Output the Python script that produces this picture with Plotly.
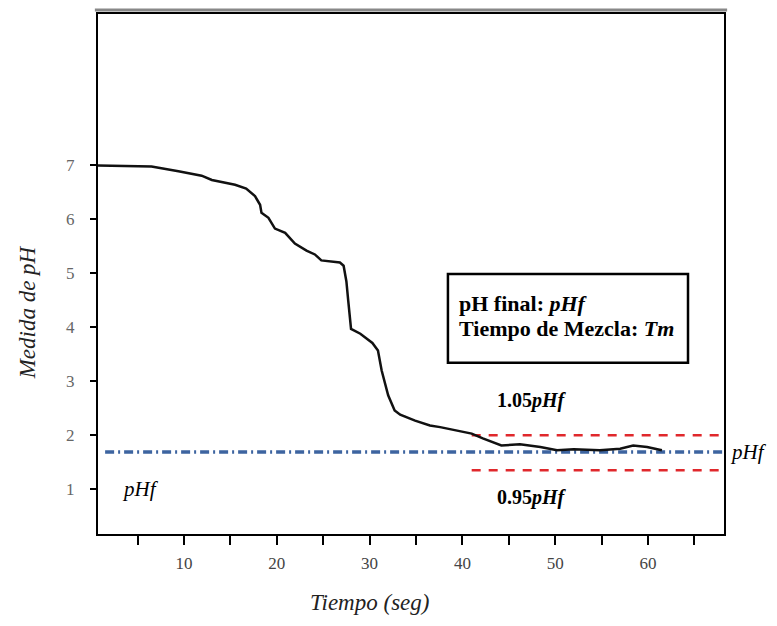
import plotly.graph_objects as go

# Data
tiempo = [0.73, 3.0, 6.5, 9.4, 11.9, 13.0, 15.5, 16.7, 17.65, 18.2, 18.35, 19.1, 19.8, 20.9,
          21.95, 23.2, 24.1, 24.8, 26.8, 27.2, 27.5, 27.7, 28.0, 29.0, 30.3, 30.9, 31.3, 32.0,
          32.7, 33.3, 34.9, 36.5, 37.6, 41.0, 42.2, 44.2, 46.2, 48.4, 50.2, 52.0, 54.8, 57.0,
          58.4, 59.9, 61.5]
ph = [7.0, 6.99, 6.98, 6.89, 6.81, 6.73, 6.64, 6.57, 6.43, 6.27, 6.12, 6.03, 5.83, 5.75,
      5.55, 5.42, 5.35, 5.24, 5.20, 5.14, 4.85, 4.49, 3.97, 3.88, 3.71, 3.57, 3.20, 2.74,
      2.46, 2.38, 2.27, 2.18, 2.15, 2.03, 1.94, 1.81, 1.83, 1.78, 1.72, 1.74, 1.72, 1.75,
      1.81, 1.78, 1.72]

phf = 1.69
ph_upper = 2.0
ph_lower = 1.35
band_x = [41.0, 68.2]
phf_x = [1.5, 68.2]

x_tickvals = [5, 10, 15, 20, 25, 30, 35, 40, 45, 50, 55, 60, 65]
x_ticktext = ["", "10", "", "20", "", "30", "", "40", "", "50", "", "60", ""]
y_tickvals = [1, 2, 3, 4, 5, 6, 7]
y_ticktext = ["1", "2", "3", "4", "5", "6", "7"]

SERIF = "Liberation Serif, Times New Roman, serif"

fig = go.Figure()
fig.add_trace(go.Scatter(x=phf_x, y=[phf, phf], mode="lines",
                         line=dict(color="#3d64a0", width=3.5, dash="9px,4px,2px,4px"),
                         hoverinfo="skip"))
fig.add_trace(go.Scatter(x=band_x, y=[ph_upper, ph_upper], mode="lines",
                         line=dict(color="#e0282c", width=2.5, dash="9px,8px"), hoverinfo="skip"))
fig.add_trace(go.Scatter(x=band_x, y=[ph_lower, ph_lower], mode="lines",
                         line=dict(color="#e0282c", width=2.5, dash="9px,8px"), hoverinfo="skip"))
fig.add_trace(go.Scatter(x=tiempo, y=ph, mode="lines",
                         line=dict(color="#111111", width=2.5)))

axis_common = dict(showline=True, linecolor="black", linewidth=2, mirror=True,
                   showgrid=False, zeroline=False, ticks="outside", tickcolor="black",
                   tickwidth=2)

fig.update_xaxes(range=[0.733, 68.19], tickvals=x_tickvals, ticktext=x_ticktext,
                 ticklen=9, ticklabelstandoff=4,
                 tickfont=dict(family=SERIF, size=17, color="#444444"), **axis_common)
fig.update_yaxes(range=[0.169, 9.806], tickvals=y_tickvals, ticktext=y_ticktext,
                 ticklen=6, ticklabelstandoff=12,
                 tickfont=dict(family=SERIF, size=17, color="#666666"), **axis_common)

fig.update_layout(
    width=777, height=626,
    margin=dict(l=98, r=53, t=12, b=92),
    paper_bgcolor="white", plot_bgcolor="white",
    showlegend=False,
    font=dict(family=SERIF, color="black"),
    shapes=[
        dict(type="line", xref="paper", yref="paper", x0=-0.005, x1=1.005, y0=1.0075, y1=1.0075,
             line=dict(color="#888888", width=3)),
        dict(type="rect", xref="paper", yref="paper", x0=0.559, x1=0.9425, y0=0.3295, y1=0.5,
             line=dict(color="black", width=2.5), fillcolor="white", layer="above"),
    ],
    annotations=[
        dict(xref="paper", yref="paper", x=-0.112, y=0.426, text="<i>Medida de pH</i>",
             textangle=-90, showarrow=False, font=dict(size=23, color="#222222"),
             xanchor="center", yanchor="middle"),
        dict(xref="paper", yref="paper", x=0.434, y=-0.132, text="<i>Tiempo (seg)</i>",
             showarrow=False, font=dict(size=23, color="#222222"),
             xanchor="center", yanchor="middle"),
        dict(xref="paper", yref="paper", x=0.5735, y=0.444, text="<b>pH final: <i>pHf</i></b>",
             showarrow=False, font=dict(size=22), xanchor="left", yanchor="middle"),
        dict(xref="paper", yref="paper", x=0.5735, y=0.3946,
             text="<b>Tiempo de Mezcla: <i>Tm</i></b>",
             showarrow=False, font=dict(size=22), xanchor="left", yanchor="middle"),
        dict(x=47.5, y=2.64, text="<b>1.05<i>pHf</i></b>", showarrow=False,
             font=dict(size=20), xanchor="center", yanchor="middle"),
        dict(x=47.5, y=0.85, text="<b>0.95<i>pHf</i></b>", showarrow=False,
             font=dict(size=20), xanchor="center", yanchor="middle"),
        dict(xref="paper", yref="y", x=1.006, y=phf, text="<i>pHf</i>", showarrow=False,
             font=dict(size=21), xanchor="left", yanchor="middle"),
        dict(x=5.3, y=1.0, text="<i>pHf</i>", showarrow=False,
             font=dict(size=21), xanchor="center", yanchor="middle"),
    ],
)

fig.write_html("out.html", config={"displayModeBar": False},
               post_script="document.body.style.margin='0';")
